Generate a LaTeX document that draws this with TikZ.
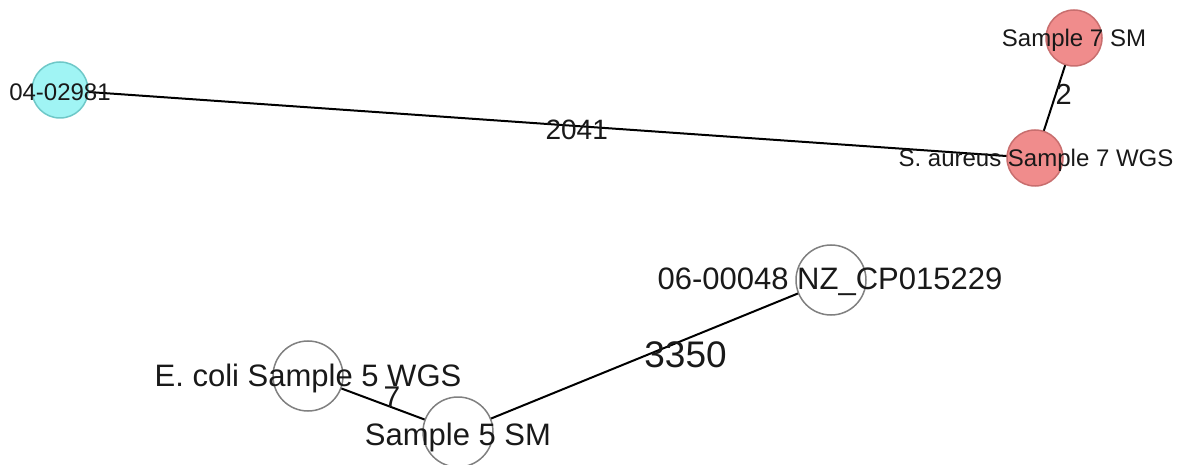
\documentclass[tikz,border=0pt]{standalone}
\usepackage{fontspec}
\setmainfont{Liberation Sans}
\usetikzlibrary{backgrounds}
\definecolor{cyfill}{RGB}{160,244,244}
\definecolor{cydraw}{RGB}{110,200,200}
\definecolor{rdfill}{RGB}{240,140,140}
\definecolor{rddraw}{RGB}{200,110,110}
\definecolor{txt}{RGB}{25,25,25}
\tikzset{
  circ/.style={circle, inner sep=0pt, line width=1.5pt},
  cyannode/.style={circ, minimum size=56pt, fill=cyfill, draw=cydraw},
  rednode/.style={circ, minimum size=56pt, fill=rdfill, draw=rddraw},
  whitenode/.style={circ, minimum size=70pt, fill=white, draw=black!50},
  lbl/.style={text=txt, inner sep=0pt, anchor=center},
  small/.style={lbl, font=\fontsize{24}{24}\selectfont},
  big/.style={lbl, font=\fontsize{31}{31}\selectfont},
  edge/.style={draw=black, line width=2pt},
  elbl/.style={text=txt, inner sep=0pt}
}
\begin{document}
\begin{tikzpicture}[x=1pt,y=-1pt]
\useasboundingbox (0,0) rectangle (1181,465);
% circles
\node[cyannode] (a) at (60,90) {};
\node[rednode] (b) at (1074,38) {};
\node[rednode] (c) at (1035,158) {};
\node[whitenode] (d) at (831,280) {};
\node[whitenode] (e) at (308,376) {};
\node[whitenode] (f) at (458,432) {};
% edges behind
\begin{pgfonlayer}{background}
\draw[edge] (a.center) -- node[pos=0.53, elbl, font=\fontsize{28}{28}\selectfont, yshift=-4pt] (l2041) {2041} (c.center);
\draw[edge] (b.center) -- node[pos=0.47, elbl, font=\fontsize{29}{29}\selectfont, xshift=8pt] (l2) {2} (c.center);
\draw[edge] (d.center) -- node[pos=0.39, elbl, font=\fontsize{37}{37}\selectfont, yshift=-15pt] (l3350) {3350} (f.center);
\draw[edge] (e.center) -- node[pos=0.56, elbl, font=\fontsize{30}{30}\selectfont, yshift=10pt] (l7) {7} (f.center);
\end{pgfonlayer}
% labels
\node[small] (al) at (60,92) {04-02981};
\node[small] (bl) at (1074,40) {Sample 7 SM};
\node[small] (cl) at (1036,160) {S. aureus Sample 7 WGS};
\node[big] (dl) at (830,282) {06-00048 NZ\_CP015229};
\node[big] (el) at (308,378) {E. coli Sample 5 WGS};
\node[big] (fl) at (458,437) {Sample 5 SM};
\end{tikzpicture}
\end{document}
